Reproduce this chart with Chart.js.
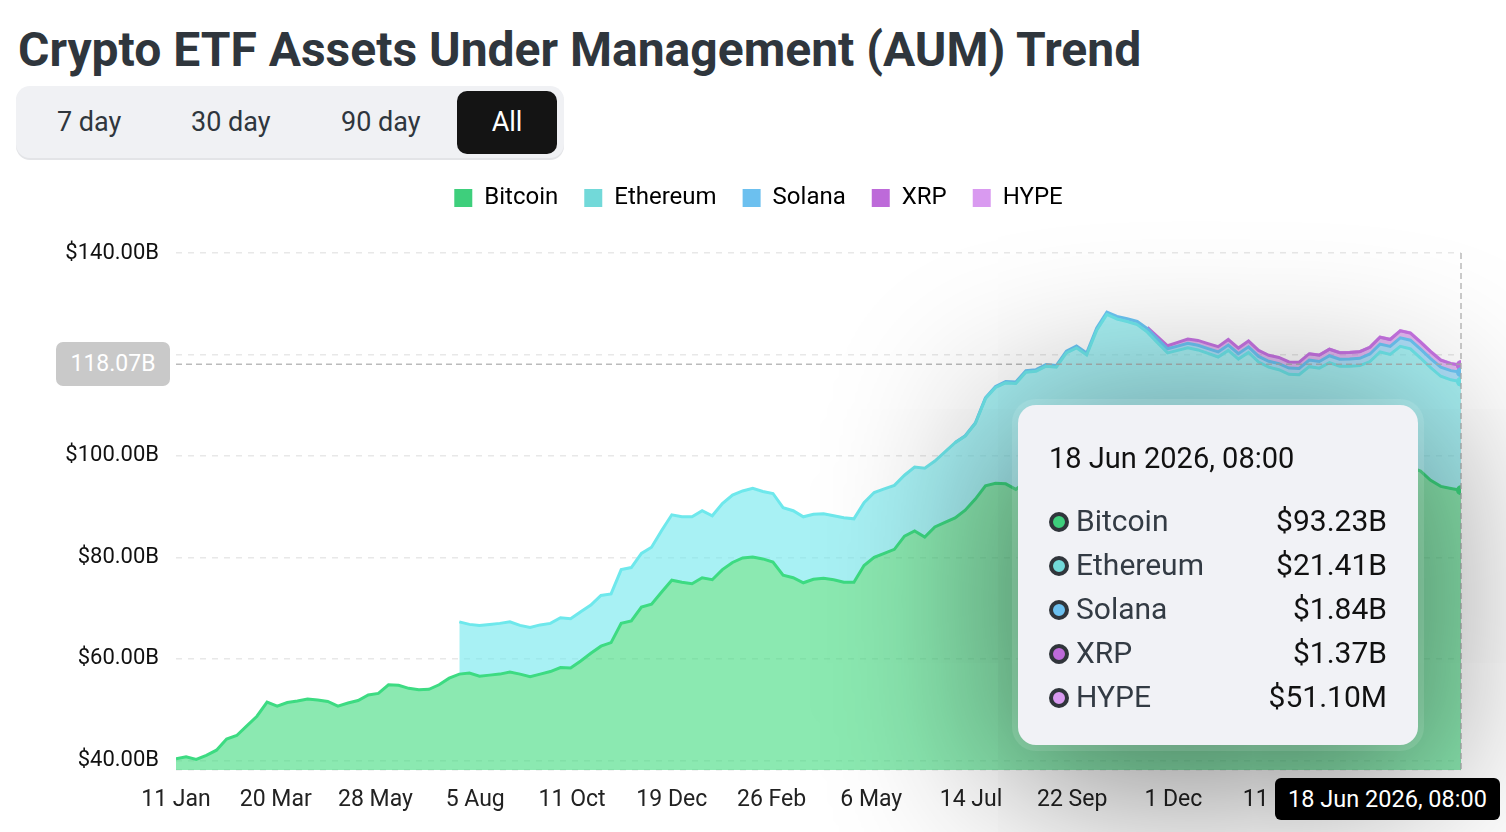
<!DOCTYPE html>
<html>
<head>
<meta charset="utf-8">
<script src="https://cdn.jsdelivr.net/npm/chart.js@4.4.1/dist/chart.umd.min.js"></script>
<style>
  body { margin: 0; background: #fff; font-family: Roboto, sans-serif; width: 1506px; height: 832px; overflow: hidden; position: relative; }
  h1 { position: absolute; left: 18px; top: 22px; margin: 0; font-size: 48px; font-weight: 700; color: #2f363d; line-height: 56px; white-space: nowrap; }
  .tabs { position: absolute; left: 16px; top: 86px; width: 548px; height: 72px; background: #f0f1f4; border-radius: 14px; box-shadow: 0 2px 0 #e3e4e7; }
  .tab { position: absolute; top: 5px; height: 63px; line-height: 63px; font-size: 27px; color: #2f363d; }
  .tab.on { background: #141414; color: #fff; border-radius: 10px; width: 100px; text-align: center; }
  #wrap { position: absolute; left: 0; top: 160px; width: 1506px; height: 672px; }
  #tip { position: absolute; left: 1018px; top: 405px; width: 400px; height: 340px; background: #f1f2f6; border-radius: 18px;
         box-shadow: 0 0 0 6px rgba(255,255,255,0.1), 0 24px 170px 20px rgba(0,0,0,0.48); }
  #tip .title { position: absolute; left: 31px; top: 39px; font-size: 29px; line-height: 29px; color: #111; }
  #tip .row { position: absolute; left: 31px; right: 31px; height: 44px; line-height: 44px; font-size: 30px; }
  #tip .dot { position: absolute; left: 0; top: 13px; width: 12px; height: 12px; border: 4px solid #30353b; border-radius: 50%; }
  #tip .name { position: absolute; left: 27px; color: #333b44; }
  #tip .val { position: absolute; right: 0; color: #111; }
  #badge { position: absolute; left: 56px; width: 114px; height: 44px; line-height: 44px; background: #c9c9c9; border-radius: 7px; color: #fff; font-size: 23px; text-align: center; }
  #xlabel { position: absolute; top: 778px; width: 225px; height: 42px; line-height: 42px; background: #000; border-radius: 6px; color: #fff; font-size: 23.5px; text-align: center; }
</style>
</head>
<body>
<h1>Crypto ETF Assets Under Management (AUM) Trend</h1>
<div class="tabs">
  <div class="tab" style="left:41px">7 day</div>
  <div class="tab" style="left:175px">30 day</div>
  <div class="tab" style="left:325px">90 day</div>
  <div class="tab on" style="left:441px">All</div>
</div>
<div id="wrap"><canvas id="chart"></canvas></div>
<div id="tip"></div>
<div id="badge"></div>
<div id="xlabel"></div>
<script>
// weekly samples (Thursdays)
const dates = [
  '2024-01-11','2024-01-18','2024-01-25','2024-02-01','2024-02-08','2024-02-15','2024-02-22','2024-02-29',
  '2024-03-07','2024-03-14','2024-03-21','2024-03-28','2024-04-04','2024-04-11','2024-04-18','2024-04-25',
  '2024-05-02','2024-05-09','2024-05-16','2024-05-23','2024-05-30','2024-06-06','2024-06-13','2024-06-20',
  '2024-06-27','2024-07-04','2024-07-11','2024-07-18','2024-07-25','2024-08-01','2024-08-08','2024-08-15',
  '2024-08-22','2024-08-29','2024-09-05','2024-09-12','2024-09-19','2024-09-26','2024-10-03','2024-10-10',
  '2024-10-17','2024-10-24','2024-10-31','2024-11-07','2024-11-14','2024-11-21','2024-11-28','2024-12-05',
  '2024-12-12','2024-12-19','2024-12-26','2025-01-02','2025-01-09','2025-01-16','2025-01-23','2025-01-30',
  '2025-02-06','2025-02-13','2025-02-20','2025-02-27','2025-03-06','2025-03-13','2025-03-20','2025-03-27',
  '2025-04-03','2025-04-10','2025-04-17','2025-04-24','2025-05-01','2025-05-08','2025-05-15','2025-05-22',
  '2025-05-29','2025-06-05','2025-06-12','2025-06-19','2025-06-26','2025-07-03','2025-07-10','2025-07-17',
  '2025-07-24','2025-07-31','2025-08-07','2025-08-14','2025-08-21','2025-08-28','2025-09-04','2025-09-11',
  '2025-09-18','2025-09-25','2025-10-02','2025-10-09','2025-10-16','2025-10-23','2025-10-30','2025-11-06',
  '2025-11-13','2025-11-20','2025-11-27','2025-12-04','2025-12-11','2025-12-18','2025-12-25','2026-01-01',
  '2026-01-08','2026-01-15','2026-01-22','2026-01-29','2026-02-05','2026-02-12','2026-02-19','2026-02-26',
  '2026-03-05','2026-03-12','2026-03-19','2026-03-26','2026-04-02','2026-04-09','2026-04-16','2026-04-23',
  '2026-04-30','2026-05-07','2026-05-14','2026-05-21','2026-05-28','2026-06-04','2026-06-11','2026-06-18'
];

// AUM in $B
const bitcoin = [
  40.3, 40.7, 40.2, 41.0, 42.0, 44.2, 44.9, 46.8, 48.7, 51.5,
  50.7, 51.4, 51.7, 52.1, 51.9, 51.6, 50.7, 51.3, 51.8, 52.9,
  53.2, 54.9, 54.8, 54.2, 53.9, 54.0, 54.9, 56.2, 57.0, 57.2,
  56.6, 56.8, 57.0, 57.4, 57.0, 56.5, 57.0, 57.5, 58.3, 58.2,
  59.6, 61.1, 62.5, 63.2, 67.0, 67.5, 70.2, 70.8, 73.2, 75.5,
  75.1, 74.8, 76.0, 75.6, 77.6, 79.0, 79.9, 80.1, 79.7, 79.1,
  76.5, 76.0, 75.0, 75.7, 75.9, 75.6, 75.1, 75.1, 78.4, 80.0,
  80.8, 81.6, 84.2, 85.2, 84.0, 86.0, 86.9, 87.8, 89.3, 91.5,
  94.1, 94.6, 94.5, 93.4, 95.0, 96.0, 96.5, 97.0, 99.0, 99.5,
  98.5, 102.5, 104.5, 103.5, 103.0, 102.5, 101.5, 99.5, 97.0, 97.5,
  98.0, 97.5, 97.0, 96.5, 97.5, 96.0, 97.5, 95.5, 94.8, 94.5,
  93.8, 93.5, 94.5, 94.2, 95.0, 94.8, 94.8, 95.2, 95.8, 97.0,
  97.0, 98.2, 97.8, 97.0, 95.2, 94.0, 93.6, 93.23
];
const ethereumStart = '2024-07-25';
const ethereum = [
  10.3, 9.6, 10.0, 10.0, 10.0, 9.9, 9.6, 9.7, 9.7, 9.5,
  9.8, 9.7, 9.7, 9.5, 10.0, 9.6, 10.6, 10.5, 10.6, 11.2,
  12.1, 12.9, 12.9, 13.2, 13.2, 12.6, 13.0, 13.3, 13.2, 13.5,
  13.3, 13.5, 13.3, 13.2, 13.0, 12.8, 12.7, 12.6, 12.7, 12.5,
  12.4, 12.8, 12.7, 12.6, 12.0, 12.6, 13.6, 13.0, 13.9, 14.8,
  14.6, 14.9, 17.2, 18.9, 19.9, 20.9, 21.5, 20.7, 21.2, 20.5,
  21.3, 21.8, 21.4, 22.3, 23.4, 23.5, 23.5, 23.4, 22.9, 22.8,
  23.3, 23.3, 23.3, 23.4, 23.2, 23.0, 23.3, 23.1, 22.9, 23.0,
  22.7, 22.5, 22.3, 22.5, 23.1, 23.1, 23.4, 22.9, 22.9, 22.6,
  22.8, 23.5, 23.0, 23.4, 23.3, 22.3, 22.2, 21.7, 21.4, 21.41
];
const solanaStart = '2025-07-03';
const solana = [
  0.05, 0.08, 0.1, 0.15, 0.2, 0.25, 0.28, 0.3, 0.3, 0.32,
  0.32, 0.35, 0.38, 0.4, 0.42, 0.45, 0.5, 0.55, 0.6, 0.7,
  0.78, 0.82, 0.85, 0.9, 0.92, 0.95, 1.0, 1.05, 1.05, 1.1,
  1.12, 1.15, 1.2, 1.22, 1.25, 1.3, 1.32, 1.35, 1.38, 1.4,
  1.45, 1.5, 1.55, 1.6, 1.68, 1.72, 1.75, 1.78, 1.8, 1.82, 1.84
];
const xrpStart = '2025-11-13';
const xrp = [
  0.25, 0.45, 0.6, 0.75, 0.85, 0.95, 1.0, 1.05, 1.1, 1.12,
  1.15, 1.18, 1.2, 1.22, 1.2, 1.22, 1.25, 1.25, 1.28, 1.28,
  1.3, 1.3, 1.32, 1.35, 1.35, 1.38, 1.38, 1.38, 1.37, 1.36, 1.37, 1.37
];
const hypeStart = '2026-03-05';
const hype = [
  0.01, 0.015, 0.02, 0.022, 0.025, 0.028, 0.03, 0.033,
  0.036, 0.04, 0.042, 0.045, 0.047, 0.049, 0.05, 0.0511
];

const xTickDates = ['2024-01-11','2024-03-20','2024-05-28','2024-08-05','2024-10-11','2024-12-19',
                    '2025-02-26','2025-05-06','2025-07-14','2025-09-22','2025-12-01','2026-02-11'];
const xTickLabels = ['11 Jan','20 Mar','28 May','5 Aug','11 Oct','19 Dec',
                     '26 Feb','6 May','14 Jul','22 Sep','1 Dec','11 Feb'];
const yTicks = [40, 60, 80, 100, 120, 140];
const yMin = 38.1, yMax = 140;
const hoverLabel = '18 Jun 2026, 08:00';
const crosshairValue = 118.07;

const t0 = Date.parse(dates[0]);
const toDay = d => (Date.parse(d) - t0) / 86400000;

function points(values, start) {
  const i0 = start ? dates.indexOf(start) : 0;
  return values.map((v, i) => ({ x: toDay(dates[i0 + i]), y: v }));
}

const series = [
  { label: 'Bitcoin',  values: bitcoin,  start: null,          line: '#3ddb82', area: 'rgba(61,219,125,0.6)',  key: '#3ecf7c' },
  { label: 'Ethereum', values: ethereum, start: ethereumStart, line: '#6ee8ec', area: 'rgba(110,232,236,0.6)', key: '#72d9d9' },
  { label: 'Solana',   values: solana,   start: solanaStart,   line: '#6cc6f5', area: 'rgba(108,198,245,0.55)', key: '#6cc0ef' },
  { label: 'XRP',      values: xrp,      start: xrpStart,      line: '#c874e4', area: 'rgba(200,116,228,0.5)', key: '#bd6ad9' },
  { label: 'HYPE',     values: hype,     start: hypeStart,     line: '#dc9cf2', area: 'rgba(220,156,242,0.5)', key: '#d99af0' }
];

function fmt(v) {
  return v >= 1 ? '$' + v.toFixed(2) + 'B' : '$' + (v * 1000).toFixed(2) + 'M';
}

// extra room between legend and plot, legend centred on the page
const legendGap = {
  id: 'legendGap',
  beforeInit(chart) {
    const fit = chart.legend.fit;
    chart.legend.fit = function () {
      fit.call(this);
      this.height += 33;
    };
  },
  afterLayout(chart) {
    chart.legend.left += 28;
    chart.legend.right += 28;
  }
};

const crosshair = {
  id: 'crosshair',
  afterDatasetsDraw(chart) {
    const { ctx, chartArea: a, scales: { x, y } } = chart;
    const px = x.getPixelForValue(toDay(dates[dates.length - 1]));
    const py = y.getPixelForValue(crosshairValue);
    ctx.save();
    ctx.setLineDash([6, 4]);
    ctx.lineWidth = 1.5;
    ctx.strokeStyle = 'rgba(175,175,175,0.85)';
    ctx.beginPath(); ctx.moveTo(px, a.top); ctx.lineTo(px, a.bottom); ctx.stroke();
    ctx.beginPath(); ctx.moveTo(a.left, py); ctx.lineTo(a.right, py); ctx.stroke();
    ctx.restore();
  }
};

Chart.defaults.font.family = 'Roboto, sans-serif';

const ctx = document.getElementById('chart').getContext('2d');
const chart = new Chart(ctx, {
  type: 'line',
  data: {
    datasets: series.map((s, i) => ({
      label: s.label,
      data: points(s.values, s.start),
      borderColor: s.line,
      backgroundColor: s.area,
      borderWidth: 3,
      fill: i === 0 ? 'start' : '-1',
      tension: 0,
      pointRadius: c => c.dataIndex === s.values.length - 1 ? 5 : 0,
      pointBackgroundColor: s.line,
      pointBorderWidth: 0,
      pointHoverRadius: 0
    }))
  },
  options: {
    animation: false,
    responsive: true,
    maintainAspectRatio: false,
    events: [],
    layout: { padding: { left: 0, right: 45, top: 0, bottom: 0 } },
    plugins: {
      tooltip: { enabled: false },
      legend: {
        labels: {
          boxWidth: 18,
          boxHeight: 18,
          padding: 26,
          color: '#333',
          font: { size: 24 },
          generateLabels: c => series.map((s, i) => ({
            text: s.label, fillStyle: s.key, strokeStyle: s.key, lineWidth: 0, datasetIndex: i, hidden: false
          }))
        }
      }
    },
    scales: {
      x: {
        type: 'linear',
        min: 0,
        max: toDay(dates[dates.length - 1]),
        grid: { display: false, drawTicks: false },
        border: { display: false },
        afterBuildTicks: axis => { axis.ticks = xTickDates.map(d => ({ value: toDay(d) })); },
        afterFit: axis => { axis.height = 62; },
        ticks: {
          autoSkip: false,
          maxRotation: 0,
          padding: 16,
          color: '#222',
          font: { size: 23 },
          callback: (v, i) => xTickLabels[i]
        }
      },
      y: {
        stacked: true,
        min: yMin,
        max: yMax,
        grid: { color: '#e8e8e8', lineWidth: 1.5, drawTicks: false },
        border: { display: false, dash: [6, 6] },
        afterBuildTicks: axis => { axis.ticks = [yMin].concat(yTicks).map(v => ({ value: v })); },
        afterFit: axis => { axis.width = 176; },
        ticks: {
          padding: 17,
          color: '#111',
          font: { size: 22 },
          // the label under the crosshair badge is hidden by it
          callback: v => (v === yMin || Math.abs(v - crosshairValue) < 4) ? '' : '$' + v.toFixed(2) + 'B'
        }
      }
    }
  },
  plugins: [legendGap, crosshair]
});

// hover readout at the last sample
const tip = document.getElementById('tip');
let html = '<div class="title">' + hoverLabel + '</div>';
series.forEach((s, i) => {
  html += '<div class="row" style="top:' + (94 + i * 44) + 'px">' +
    '<span class="dot" style="background:' + s.key + '"></span>' +
    '<span class="name">' + s.label + '</span>' +
    '<span class="val">' + fmt(s.values[s.values.length - 1]) + '</span></div>';
});
tip.innerHTML = html;

const wrapTop = 160;
const px = chart.scales.x.getPixelForValue(toDay(dates[dates.length - 1]));
const py = chart.scales.y.getPixelForValue(crosshairValue);
const badge = document.getElementById('badge');
badge.textContent = crosshairValue.toFixed(2) + 'B';
badge.style.top = (wrapTop + py - 22) + 'px';
const xlabel = document.getElementById('xlabel');
xlabel.textContent = hoverLabel;
xlabel.style.left = Math.min(px - 112, 1500 - 225) + 'px';
</script>
</body>
</html>
